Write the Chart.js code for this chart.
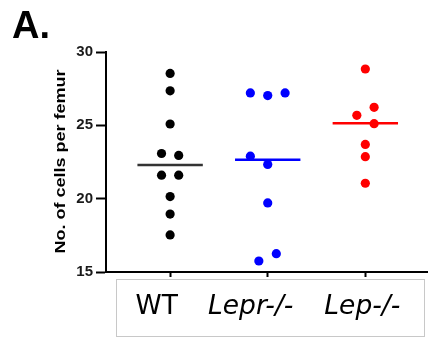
<!DOCTYPE html>
<html>
<head>
<meta charset="utf-8">
<script src="https://cdn.jsdelivr.net/npm/chart.js@4"></script>
<style>
  html,body{margin:0;padding:0;background:#fff;}
  canvas{display:block;}
</style>
</head>
<body>
<canvas id="chart" width="432" height="339"></canvas>
<script>
// groups and their values (cells per femur)
const groups = ['WT', 'Lepr-/-', 'Lep-/-'];
const groupItalic = [false, true, true];
const groupColors = ['#000000', '#0000ff', '#ff0000'];
const medianColors = ['#333333', '#0000ff', '#ff0000'];

const wtValues   = [28.54, 27.35, 25.09, 23.08, 22.95, 21.6, 21.6, 20.14, 18.95, 17.53];
const wtJitter   = [0, 0, 0, -0.088, 0.088, -0.088, 0.088, 0, 0, 0];
const leprValues = [27.21, 27.03, 27.21, 22.9, 22.33, 19.71, 16.25, 15.75];
const leprJitter = [-0.178, 0, 0.178, -0.178, 0, 0, 0.088, -0.091];
const lepValues  = [28.84, 26.23, 25.68, 25.11, 23.7, 22.86, 21.05];
const lepJitter  = [0, 0.09, -0.087, 0.09, 0, 0, 0];

const medians = [22.3, 22.65, 25.14];
const yTicks = [15, 20, 25, 30];

const allValues = [wtValues, leprValues, lepValues];
const allJitter = [wtJitter, leprJitter, lepJitter];

const datasets = [];
allValues.forEach((vals, g) => {
  datasets.push({
    type: 'scatter',
    data: vals.map((v, i) => ({x: g + 1 + allJitter[g][i], y: v})),
    backgroundColor: groupColors[g],
    borderWidth: 0,
    pointRadius: 4.6,
    pointHoverRadius: 4.6
  });
  datasets.push({
    type: 'line',
    data: [{x: g + 1 - 0.335, y: medians[g]}, {x: g + 1 + 0.335, y: medians[g]}],
    borderColor: medianColors[g],
    borderWidth: 2.5,
    pointRadius: 0,
    fill: false
  });
});

// extra text and the label box under the x axis
const decor = {
  id: 'decor',
  afterDraw(chart){
    const ctx = chart.ctx;
    const xs = chart.scales.x;
    ctx.save();
    ctx.fillStyle = '#000';
    // panel letter
    ctx.font = 'bold 38px "Liberation Sans", Arial, sans-serif';
    ctx.textAlign = 'left';
    ctx.textBaseline = 'alphabetic';
    ctx.fillText('A.', 12, 38);
    // y title (the source picture is a bit stretched along this text)
    ctx.save();
    ctx.translate(61, 161.5);
    ctx.rotate(-Math.PI / 2);
    ctx.scale(1.2, 1);
    ctx.font = 'bold 15px "Liberation Sans", Arial, sans-serif';
    ctx.textAlign = 'center';
    ctx.textBaseline = 'middle';
    ctx.fillText('No. of cells per femur', 0, 0);
    ctx.restore();
    // label box
    ctx.strokeStyle = '#c8c8c8';
    ctx.lineWidth = 1;
    ctx.strokeRect(116.5, 279.5, 308, 57);
    const shift = [-13.5, -17, -3];
    ctx.textAlign = 'center';
    ctx.textBaseline = 'middle';
    groups.forEach((g, i) => {
      ctx.font = (groupItalic[i] ? 'italic ' : '') + '26.5px "DejaVu Sans", sans-serif';
      ctx.fillText(g, xs.getPixelForValue(i + 1) + shift[i], 307);
    });
    ctx.restore();
  }
};

new Chart(document.getElementById('chart'), {
  data: {datasets},
  options: {
    responsive: false,
    animation: false,
    layout: {padding: {top: 52, right: 0, left: 0, bottom: 0}},
    plugins: {legend: {display: false}, tooltip: {enabled: false}},
    scales: {
      x: {
        type: 'linear',
        min: 0.343,
        max: 3.636,
        afterBuildTicks: s => { s.ticks = [1, 2, 3].map(v => ({value: v})); },
        afterFit: s => { s.height = 67; },
        ticks: {callback: () => '', display: true},
        grid: {drawOnChartArea: false, tickLength: 5, tickColor: '#000', tickWidth: 2},
        border: {color: '#000', width: 2}
      },
      y: {
        min: 15,
        max: 30,
        afterBuildTicks: s => { s.ticks = yTicks.map(v => ({value: v})); },
        afterFit: s => { s.width = 106; },
        ticks: {
          color: '#1a1a1a',
          padding: 3,
          font: {family: '"Liberation Sans", Arial, sans-serif', size: 15, weight: 'bold'}
        },
        grid: {drawOnChartArea: false, tickLength: 10, tickColor: '#000', tickWidth: 2},
        border: {color: '#000', width: 2}
      }
    }
  },
  plugins: [decor]
});
</script>
</body>
</html>
